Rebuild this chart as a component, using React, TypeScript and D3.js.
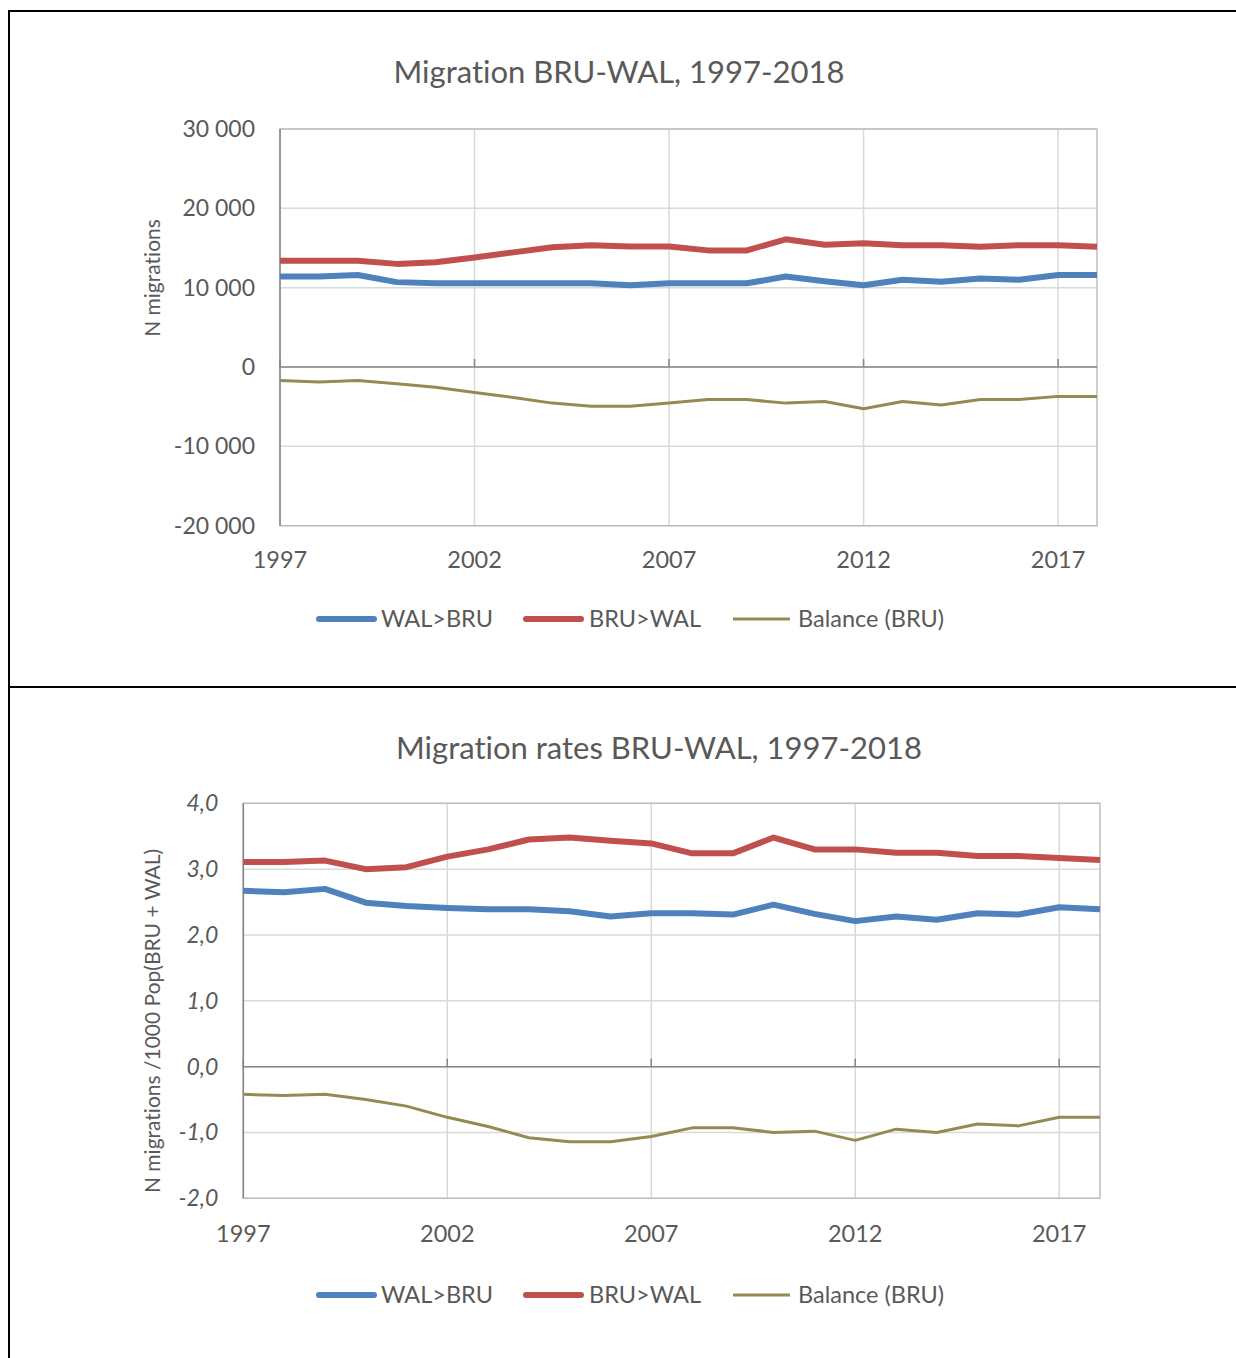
import React from "react";
import * as d3 from "d3";

const years = d3.range(1997, 2019);
const xTickYears = [1997, 2002, 2007, 2012, 2017];

// Chart 1: absolute numbers
const walToBru = [11400, 11400, 11600, 10700, 10550, 10550, 10550, 10550, 10550, 10300, 10550, 10550, 10550, 11400, 10800, 10300, 11000, 10750, 11150, 11000, 11600, 11600];
const bruToWal = [13400, 13400, 13400, 13000, 13200, 13800, 14450, 15100, 15350, 15200, 15200, 14700, 14700, 16100, 15400, 15600, 15350, 15350, 15150, 15350, 15350, 15150];
const balanceN = [-1700, -1900, -1700, -2100, -2550, -3200, -3850, -4550, -4950, -4950, -4550, -4100, -4100, -4550, -4350, -5250, -4350, -4800, -4100, -4100, -3700, -3700];
const yTicksN = [-20000, -10000, 0, 10000, 20000, 30000];

// Chart 2: rates
const walToBruRate = [2.67, 2.65, 2.70, 2.49, 2.44, 2.41, 2.39, 2.39, 2.36, 2.28, 2.33, 2.33, 2.31, 2.46, 2.32, 2.21, 2.28, 2.23, 2.33, 2.31, 2.42, 2.39];
const bruToWalRate = [3.11, 3.11, 3.13, 3.00, 3.03, 3.19, 3.30, 3.45, 3.48, 3.43, 3.39, 3.24, 3.24, 3.48, 3.30, 3.30, 3.25, 3.25, 3.20, 3.20, 3.17, 3.14];
const balanceRate = [-0.42, -0.44, -0.42, -0.50, -0.60, -0.77, -0.91, -1.08, -1.14, -1.14, -1.06, -0.93, -0.93, -1.00, -0.98, -1.12, -0.95, -1.00, -0.87, -0.90, -0.77, -0.77];
const yTicksR = [-2, -1, 0, 1, 2, 3, 4];

const seriesNames = ["WAL>BRU", "BRU>WAL", "Balance (BRU)"];
const colors = ["#4F81BD", "#C0504D", "#948A54"];
const widths = [6, 6, 3];

const FONT = "Lato, 'Open Sans', sans-serif";
const TXT = "#595959";
const noLig: React.CSSProperties = { fontVariantLigatures: "none", fontFeatureSettings: '"liga" 0, "dlig" 0, "clig" 0' };

type ChartProps = {
  title: string;
  titleX: number;
  titleY: number;
  yTitle: string;
  yTitleCY: number;
  x0: number;
  x1: number;
  yTop: number;
  yBottom: number;
  domain: [number, number];
  ticks: number[];
  fmt: (v: number) => string;
  italicY: boolean;
  series: number[][];
  xLabelY: number;
  legendY: number;
};

function Chart(p: ChartProps) {
  const x = d3.scaleLinear().domain([1997, 2018]).range([p.x0, p.x1]);
  const y = d3.scaleLinear().domain(p.domain).range([p.yBottom, p.yTop]);
  const line = d3
    .line<number>()
    .x((_, i) => x(years[i]))
    .y((d) => y(d));
  const legendX = [
    { a: 319, b: 374, t: 381 },
    { a: 526, b: 581, t: 589 },
    { a: 733, b: 790, t: 798 },
  ];
  return (
    <g>
      <text x={p.titleX} y={p.titleY} textAnchor="middle" fontFamily={FONT} fontSize={31} fill={TXT} style={noLig}>
        {p.title}
      </text>
      {p.ticks.map((t) => (
        <line key={"h" + t} x1={p.x0} x2={p.x1} y1={y(t)} y2={y(t)} stroke="#D9D9D9" strokeWidth={1.5} />
      ))}
      {xTickYears.slice(1).map((yr) => (
        <line key={"v" + yr} x1={x(yr)} x2={x(yr)} y1={p.yTop} y2={p.yBottom} stroke="#D9D9D9" strokeWidth={1.5} />
      ))}
      <rect x={p.x0} y={p.yTop} width={p.x1 - p.x0} height={p.yBottom - p.yTop} fill="none" stroke="#BFBFBF" strokeWidth={1.5} />
      <line x1={p.x0} x2={p.x0} y1={p.yTop} y2={p.yBottom} stroke="#868686" strokeWidth={1.5} />
      <line x1={p.x0} x2={p.x1} y1={y(0)} y2={y(0)} stroke="#868686" strokeWidth={1.5} />
      {xTickYears.map((yr) => (
        <line key={"t" + yr} x1={x(yr)} x2={x(yr)} y1={y(0) - 8} y2={y(0)} stroke="#868686" strokeWidth={1.5} />
      ))}
      {p.ticks.map((t) => (
        <text
          key={"yl" + t}
          x={p.x0 - 25}
          y={y(t) + 8}
          textAnchor="end"
          fontFamily={FONT}
          fontSize={23}
          fontStyle={p.italicY ? "italic" : "normal"}
          fill={TXT}
        >
          {p.fmt(t)}
        </text>
      ))}
      {xTickYears.map((yr) => (
        <text key={"xl" + yr} x={x(yr)} y={p.xLabelY} textAnchor="middle" fontFamily={FONT} fontSize={23.5} fill={TXT}>
          {yr}
        </text>
      ))}
      <text
        transform={`translate(160,${p.yTitleCY}) rotate(-90)`}
        textAnchor="middle"
        fontFamily={FONT}
        fontSize={21}
        fill={TXT}
        style={noLig}
      >
        {p.yTitle}
      </text>
      {p.series.map((s, i) => (
        <path key={"s" + i} d={line(s) || ""} fill="none" stroke={colors[i]} strokeWidth={widths[i]} strokeLinejoin="round" />
      ))}
      {seriesNames.map((n, i) => (
        <g key={"lg" + i}>
          <line
            x1={legendX[i].a}
            x2={legendX[i].b}
            y1={p.legendY}
            y2={p.legendY}
            stroke={colors[i]}
            strokeWidth={widths[i]}
            strokeLinecap={i < 2 ? "round" : "butt"}
          />
          <text x={legendX[i].t} y={p.legendY + 8} fontFamily={FONT} fontSize={23.5} fill={TXT}>
            {n}
          </text>
        </g>
      ))}
    </g>
  );
}

const fmtN = (v: number) => (v < 0 ? "-" : "") + d3.format(",")(Math.abs(v)).replace(/,/g, " ");
const fmtR = (v: number) => (v < 0 ? "-" : "") + d3.format(".1f")(Math.abs(v)).replace(".", ",");

export default function App() {
  return (
    <svg
      width={1236}
      height={1358}
      style={{ position: "absolute", left: 0, top: 0, background: "#fff" }}
    >
      <rect x={0} y={0} width={1236} height={1358} fill="#fff" />
      <line x1={8} x2={1236} y1={11} y2={11} stroke="#000" strokeWidth={2} />
      <line x1={9} x2={9} y1={10} y2={1358} stroke="#000" strokeWidth={2} />
      <line x1={9} x2={1236} y1={687} y2={687} stroke="#000" strokeWidth={2} />
      <Chart
        title="Migration BRU-WAL, 1997-2018"
        titleX={619}
        titleY={83}
        yTitle="N migrations"
        yTitleCY={278}
        x0={280}
        x1={1097}
        yTop={129}
        yBottom={525.7}
        domain={[-20000, 30000]}
        ticks={yTicksN}
        fmt={fmtN}
        italicY={false}
        series={[walToBru, bruToWal, balanceN]}
        xLabelY={568}
        legendY={619}
      />
      <Chart
        title="Migration rates BRU-WAL, 1997-2018"
        titleX={659}
        titleY={759}
        yTitle="N migrations /1000 Pop(BRU + WAL)"
        yTitleCY={1021}
        x0={243.3}
        x1={1100}
        yTop={803.3}
        yBottom={1198.3}
        domain={[-2, 4]}
        ticks={yTicksR}
        fmt={fmtR}
        italicY={true}
        series={[walToBruRate, bruToWalRate, balanceRate]}
        xLabelY={1242}
        legendY={1295}
      />
    </svg>
  );
}
